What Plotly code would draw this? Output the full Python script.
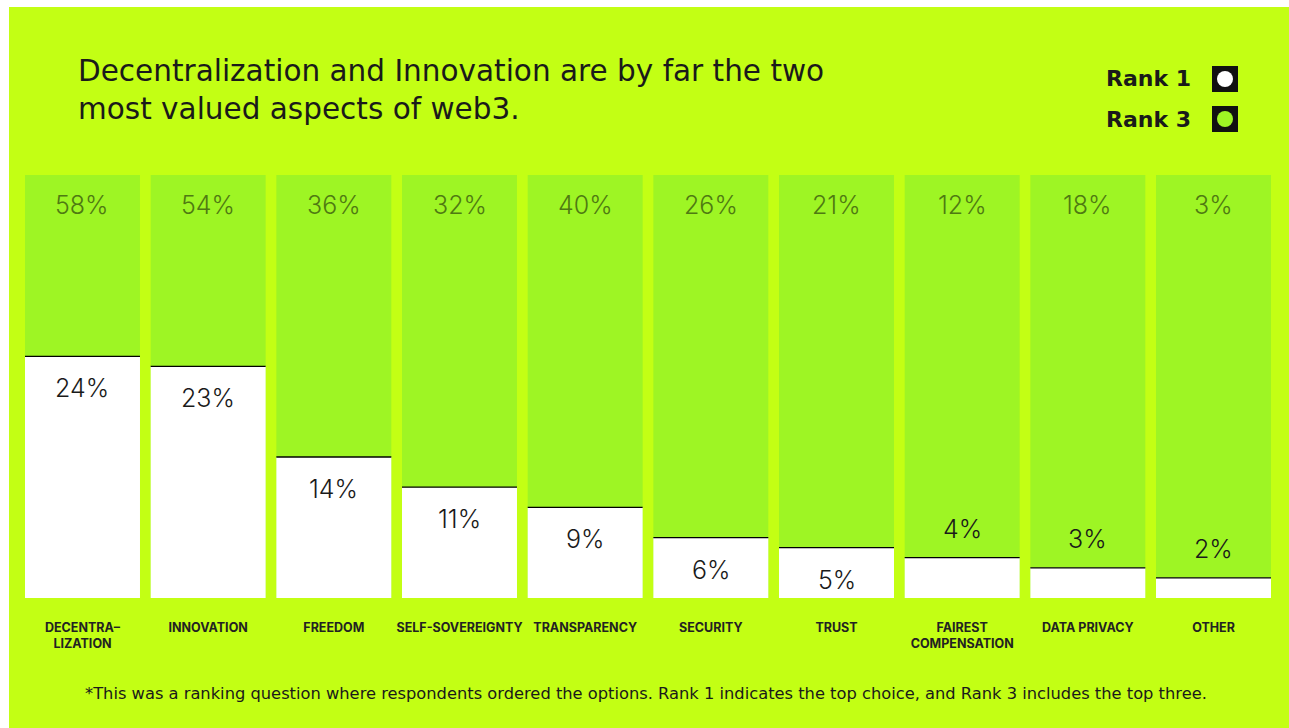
import plotly.graph_objects as go

# Survey results: share of respondents picking each aspect of web3
categories = ["DECENTRA–<br>LIZATION", "INNOVATION", "FREEDOM", "SELF-SOVEREIGNTY",
              "TRANSPARENCY", "SECURITY", "TRUST", "FAIREST<br>COMPENSATION",
              "DATA PRIVACY", "OTHER"]
rank1 = [24, 23, 14, 11, 9, 6, 5, 4, 3, 2]
rank3 = [58, 54, 36, 32, 40, 26, 21, 12, 18, 3]

W, H = 1289, 728
# plot area in pixels
L, R, T, B = 25, 1271, 175, 598

LIME = "#c3ff14"
GREEN = "#9ef524"
INK = "#1a1a1a"
RANK3_TXT = "#4f7a12"
FONT = "Inter"
WIDE = "DejaVu Sans"

y_max = 42.0          # top of the value axis
bar_w = 0.915          # bar width in category units
xs = list(range(len(categories)))


def px(x):
    return (x - L) / (R - L)


def py(y):
    return (B - y) / (B - T)


fig = go.Figure()

# full-height Rank 3 columns
fig.add_bar(x=xs, y=[y_max] * len(xs), width=bar_w, marker=dict(color=GREEN, line=dict(width=0)),
            hoverinfo="skip", name="Rank 3")
# Rank 1 bars
fig.add_bar(x=xs, y=rank1, width=bar_w, marker=dict(color="white", line=dict(width=0)),
            name="Rank 1")

# thin black cap on top of each Rank 1 bar
lx, ly = [], []
for x, v in zip(xs, rank1):
    lx += [x - bar_w / 2, x + bar_w / 2, None]
    ly += [v, v, None]
fig.add_scatter(x=lx, y=ly, mode="lines", line=dict(color="black", width=1.3),
                hoverinfo="skip", showlegend=False)

ann = []
for x, v3, v1 in zip(xs, rank3, rank1):
    ann.append(dict(x=x, y=y_max, xref="x", yref="y", text=f"{v3}%", showarrow=False,
                    yanchor="middle", yshift=-30,
                    font=dict(family=FONT, size=25, color=RANK3_TXT, weight=300)))
    inside = v1 >= 5
    ann.append(dict(x=x, y=v1, xref="x", yref="y", text=f"{v1}%", showarrow=False,
                    yanchor="middle", yshift=-32 if inside else 29,
                    font=dict(family=FONT, size=25, color=INK, weight=300)))

# title
ann.append(dict(x=px(76), y=py(90), xref="paper", yref="paper", xanchor="left", yanchor="middle",
                align="left", showarrow=False,
                text="Decentralization and Innovation are by far the two<br>most valued aspects of web3.",
                font=dict(family=WIDE, size=29.5, color=INK)))

# legend entries
for label, cy in [("Rank 1", 79), ("Rank 3", 119)]:
    ann.append(dict(x=px(1193), y=py(cy), xref="paper", yref="paper", xanchor="right",
                    yanchor="middle", showarrow=False, text=label,
                    font=dict(family=WIDE, size=22, color=INK, weight=700)))

# footnote
ann.append(dict(x=px(646), y=py(693), xref="paper", yref="paper", xanchor="center",
                yanchor="middle", showarrow=False,
                text="*This was a ranking question where respondents ordered the options. "
                     "Rank 1 indicates the top choice, and Rank 3 includes the top three.",
                font=dict(family=WIDE, size=16.3, color=INK)))

shapes = []
# white page edges
shapes.append(dict(type="rect", xref="paper", yref="paper", x0=px(0), x1=px(W), y0=py(0), y1=py(7),
                   fillcolor="white", line=dict(width=0), layer="above"))
shapes.append(dict(type="rect", xref="paper", yref="paper", x0=px(0), x1=px(9), y0=py(0), y1=py(H),
                   fillcolor="white", line=dict(width=0), layer="above"))
# legend swatches
for cy, dot in [(79, "white"), (119, GREEN)]:
    shapes.append(dict(type="rect", xref="paper", yref="paper", x0=px(1212), x1=px(1238),
                       y0=py(cy + 13), y1=py(cy - 13), fillcolor="#111111", line=dict(width=0)))
    shapes.append(dict(type="circle", xref="paper", yref="paper", x0=px(1217), x1=px(1233),
                       y0=py(cy + 8), y1=py(cy - 8), fillcolor=dot, line=dict(width=0)))

fig.update_layout(
    width=W, height=H,
    margin=dict(l=L, r=W - R, t=T, b=H - B),
    paper_bgcolor=LIME, plot_bgcolor=LIME,
    barmode="overlay", showlegend=False,
    annotations=ann, shapes=shapes,
    xaxis=dict(range=[-bar_w / 2, len(xs) - 1 + bar_w / 2], tickvals=xs, ticktext=categories,
               showgrid=False, zeroline=False, showline=False, ticks="",
               ticklabelstandoff=20,
               tickfont=dict(family=FONT, size=12.5, color="#222222", weight=700)),
    yaxis=dict(range=[0, y_max], visible=False, fixedrange=True),
)

fig.write_html("out.html")
